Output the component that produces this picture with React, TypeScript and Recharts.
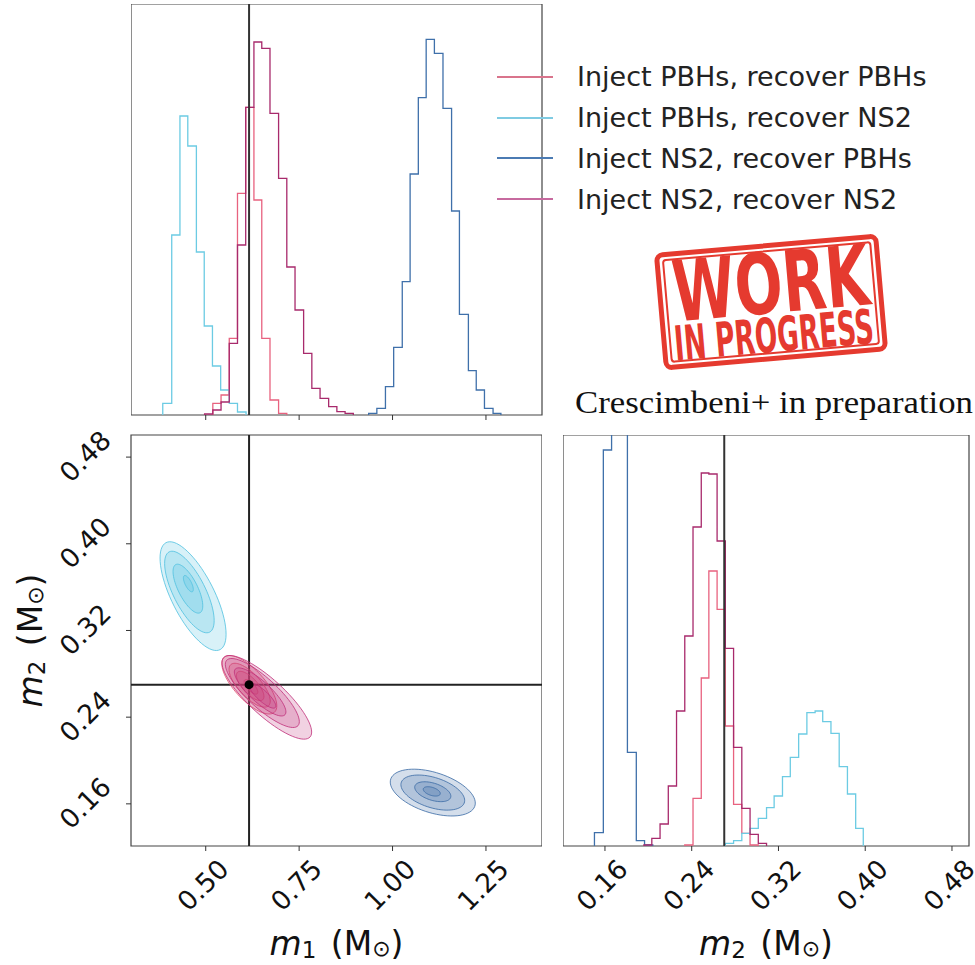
import React from 'react'
import {
  ComposedChart,
  ScatterChart,
  Line,
  Scatter,
  XAxis,
  YAxis,
  ReferenceLine,
  ReferenceArea,
  Legend
} from 'recharts'

// Series names and colours
const seriesNames = [
  'Inject PBHs, recover PBHs',
  'Inject PBHs, recover NS2',
  'Inject NS2, recover PBHs',
  'Inject NS2, recover NS2'
]
const lineColors = ['#e8627f', '#6ccbe3', '#3f70aa', '#a82a6c']
const legendColors = ['#d9748c', '#7fcbe2', '#4b7bb3', '#c76a9f']
const contourColors = ['#e0506e', '#4fc0e0', '#3a6aa5', '#c0307a']

// Injected values
const truthM1 = 0.616
const truthM2 = 0.27

// Axis ranges and ticks
const m1Domain = [0.3, 1.4]
const m2Domain = [0.1211, 0.5004]
const m2HistDomain = [0.1213, 0.4957]
const histHeight = [0, 411]
const m1Ticks = [0.5, 0.75, 1.0, 1.25]
const m2Ticks = [0.16, 0.24, 0.32, 0.4, 0.48]

// m1 marginal histograms (bin edges, heights)
const m1PbhPbhEdges = [0.519, 0.541, 0.563, 0.585, 0.607, 0.629, 0.65, 0.672, 0.695, 0.717]
const m1PbhPbhCounts = [11.7, 20, 76.7, 221.7, 307.7, 215, 76.7, 15, 1.7]
const m1PbhNs2Edges = [0.385, 0.409, 0.431, 0.452, 0.475, 0.496, 0.518, 0.54, 0.563, 0.585, 0.608]
const m1PbhNs2Counts = [11.7, 180, 299, 269, 163, 89, 49, 25, 11.7, 3]
const m1Ns2PbhEdges = [0.936, 0.958, 0.981, 1.003, 1.026, 1.047, 1.069, 1.09, 1.112, 1.135, 1.158, 1.179, 1.203, 1.224, 1.246, 1.269, 1.29]
const m1Ns2PbhCounts = [1.7, 6.7, 28.3, 67.7, 133.3, 241, 317.3, 375.7, 361.7, 306.7, 204, 100.7, 44.3, 25, 6.7, 1.7]
const m1Ns2Ns2Edges = [0.497, 0.519, 0.541, 0.563, 0.585, 0.607, 0.629, 0.65, 0.672, 0.695, 0.717, 0.739, 0.762, 0.784, 0.806, 0.829, 0.851, 0.873, 0.895]
const m1Ns2Ns2Counts = [1, 5, 13, 71.7, 170, 307.7, 373, 366.7, 301.7, 236.7, 148, 105, 61.7, 26.7, 16.7, 8.3, 3.3, 1.7]

// m2 marginal histograms
const m2PbhPbhEdges = [0.2336, 0.2412, 0.2488, 0.2558, 0.2634, 0.271, 0.2786, 0.2862, 0.2938, 0.3014]
const m2PbhPbhCounts = [1, 47.7, 168, 275, 236.7, 120, 41.7, 12.7, 1]
const m2PbhNs2Edges = [0.271, 0.2786, 0.2862, 0.2938, 0.3014, 0.309, 0.316, 0.3237, 0.3309, 0.3386, 0.3462, 0.3538, 0.3608, 0.3684, 0.376, 0.3836, 0.3912, 0.3982]
const m2PbhNs2Counts = [2.7, 5.3, 12.7, 17.7, 27.7, 38.3, 50, 69.3, 88.7, 112, 133.3, 135, 124.3, 112.7, 79.3, 52, 17.7]
const m2Ns2PbhEdges = [0.1503, 0.1585, 0.1661, 0.1734, 0.1807, 0.1889, 0.1965, 0.2041]
const m2Ns2PbhCounts = [13.3, 396, 560, 520, 93.7, 5.3, 1]
const m2Ns2Ns2Edges = [0.1959, 0.2032, 0.2108, 0.2184, 0.226, 0.2336, 0.2412, 0.2488, 0.2558, 0.2634, 0.271, 0.2786, 0.2862, 0.2938, 0.3014, 0.309]
const m2Ns2Ns2Counts = [1, 7.7, 22, 60, 135, 210, 319, 373, 372, 305, 197.7, 98.7, 37.7, 11.7, 2.7]

// 2D contour shapes: sigma(m1), sigma(m2), correlation
const contourSigma1 = [0.0368, 0.0442, 0.0569, 0.06]
const contourSigma2 = [0.0135, 0.0251, 0.0108, 0.0193]
const contourRho = [-0.72, -0.7, -0.45, -0.83]

// contour levels: radius and centre per level
const pbhPbhLevels = [
  { r: 2, m1: 0.6166, m2: 0.2699 },
  { r: 1.5, m1: 0.6175, m2: 0.2695 },
  { r: 1, m1: 0.619, m2: 0.2688 },
  { r: 0.5, m1: 0.621, m2: 0.268 }
]
const pbhNs2Levels = [
  { r: 2, m1: 0.4661, m2: 0.3517 },
  { r: 1.5, m1: 0.4563, m2: 0.3555 },
  { r: 0.9, m1: 0.4523, m2: 0.3586 },
  { r: 0.3, m1: 0.4535, m2: 0.3632 }
]
const ns2PbhLevels = [
  { r: 2, m1: 1.1077, m2: 0.1704 },
  { r: 1.5, m1: 1.1077, m2: 0.1704 },
  { r: 0.85, m1: 1.1077, m2: 0.1712 },
  { r: 0.4, m1: 1.105, m2: 0.1715 }
]
const ns2Ns2Levels = [
  { r: 2, m1: 0.6635, m2: 0.2583 },
  { r: 1.65, m1: 0.6515, m2: 0.2623 },
  { r: 1.15, m1: 0.6456, m2: 0.2633 },
  { r: 0.6, m1: 0.6516, m2: 0.2599 }
]

const m1Hists = [
  [m1PbhPbhEdges, m1PbhPbhCounts],
  [m1PbhNs2Edges, m1PbhNs2Counts],
  [m1Ns2PbhEdges, m1Ns2PbhCounts],
  [m1Ns2Ns2Edges, m1Ns2Ns2Counts]
]
const m2Hists = [
  [m2PbhPbhEdges, m2PbhPbhCounts],
  [m2PbhNs2Edges, m2PbhNs2Counts],
  [m2Ns2PbhEdges, m2Ns2PbhCounts],
  [m2Ns2Ns2Edges, m2Ns2Ns2Counts]
]
const allLevels = [pbhPbhLevels, pbhNs2Levels, ns2PbhLevels, ns2Ns2Levels]

// step outline of a histogram
const stepPoints = (edges: number[], counts: number[]) => {
  const pts = [{ x: edges[0], y: 0 }]
  counts.forEach((c, i) => {
    pts.push({ x: edges[i], y: c }, { x: edges[i + 1], y: c })
  })
  pts.push({ x: edges[edges.length - 1], y: 0 })
  return pts
}

// gaussian iso-density ellipse in data units
const ellipsePoints = (m1: number, m2: number, r: number, s1: number, s2: number, rho: number) => {
  const pts = []
  const q = Math.sqrt(1 - rho * rho)
  for (let i = 0; i < 72; i++) {
    const t = (i / 72) * Math.PI * 2
    pts.push({
      x: m1 + r * s1 * Math.cos(t),
      y: m2 + r * s2 * (rho * Math.cos(t) + q * Math.sin(t))
    })
  }
  return pts
}

const FONT = 'DejaVu Sans'
const FRAME = '#444'
const TOP_PAD = 12

const noDot = () => <g />

const contourPath = (color: string) => (props: any) => {
  const pts = props.points || []
  const d = pts.map((p: any, i: number) => `${i ? 'L' : 'M'}${p.x},${p.y}`).join('') + 'Z'
  return (
    <path d={d} fill={color} fillOpacity={0.22} stroke={color} strokeOpacity={0.8} strokeWidth={1} />
  )
}

const XTick = ({ x, y, payload }: any) => {
  const cx = x - 3
  const cy = y + 32
  return (
    <text x={cx} y={cy} textAnchor="middle" dominantBaseline="central" fontSize={26.5}
      fontFamily={FONT} fill="#111" transform={`rotate(-45, ${cx}, ${cy})`}>
      {Number(payload.value).toFixed(2)}
    </text>
  )
}

const YTick = ({ x, y, payload }: any) => {
  const cx = x - 39
  const cy = y - 1
  return (
    <text x={cx} y={cy} textAnchor="middle" dominantBaseline="central" fontSize={26.5}
      fontFamily={FONT} fill="#111" transform={`rotate(-45, ${cx}, ${cy})`}>
      {Number(payload.value).toFixed(2)}
    </text>
  )
}

const AxisTitle = ({ viewBox, sub, vertical }: any) => {
  const vb = viewBox || { x: 0, y: 0, width: 0, height: 0 }
  const cx = vertical ? vb.x + 30 : vb.x + vb.width / 2
  const cy = vertical ? vb.y + vb.height / 2 : vb.y + 97
  return (
    <text x={cx} y={cy} textAnchor="middle" dominantBaseline="central" fontSize={33}
      fontFamily={FONT} fill="#111" transform={vertical ? `rotate(-90, ${cx}, ${cy})` : undefined}>
      <tspan fontStyle="italic">m</tspan>
      <tspan fontSize={23} dy={7}>{sub}</tspan>
      <tspan dy={-7} dx={4}> (M</tspan>
      <tspan fontSize={22} dy={5}>⊙</tspan>
      <tspan dy={-5}>)</tspan>
    </text>
  )
}

const renderLegend = () => (
  <div style={{ fontFamily: FONT, fontSize: 27, color: '#222' }}>
    {seriesNames.map((n, i) => (
      <div key={n} style={{ display: 'flex', alignItems: 'center', height: 40.8 }}>
        <div style={{ width: 56, height: 2, background: legendColors[i], marginRight: 24 }} />
        <span style={{ whiteSpace: 'nowrap' }}>{n}</span>
      </div>
    ))}
  </div>
)

function Stamp() {
  const red = '#e53a2f'
  return (
    <svg width={280} height={180} style={{ position: 'absolute', left: 630, top: 215 }}>
      <g transform="translate(141, 87) rotate(-5)">
        <rect x={-110} y={-56.5} width={220} height={113} rx={6} fill="none" stroke={red} strokeWidth={5} />
        <rect x={-104} y={-51} width={208} height={102} rx={3} fill="none" stroke={red} strokeWidth={2} />
        <text x={-97} y={11} fontSize={84} fontWeight="bold" fill={red}
          fontFamily="'Liberation Sans Narrow', 'DejaVu Sans Condensed', sans-serif"
          textLength={197} lengthAdjust="spacingAndGlyphs">WORK</text>
        <text x={-100} y={50} fontSize={48} fontWeight="bold" fill={red}
          fontFamily="'Liberation Sans Narrow', 'DejaVu Sans Condensed', sans-serif"
          textLength={200} lengthAdjust="spacingAndGlyphs">IN PROGRESS</text>
      </g>
    </svg>
  )
}

export default function App() {
  return (
    <div style={{ position: 'absolute', left: 0, top: 0, width: 975, height: 965, background: '#fff', overflow: 'hidden' }}>
      {/* m1 marginal */}
      <div style={{ position: 'absolute', left: 131, top: 4 }}>
        <ComposedChart width={844} height={421} margin={{ top: 0, right: 433, bottom: 0, left: 0 }}>
          <XAxis dataKey="x" type="number" domain={m1Domain} allowDataOverflow ticks={m1Ticks}
            height={10} tickSize={5} tickFormatter={() => ''} axisLine={false} stroke="#333" />
          <YAxis type="number" domain={histHeight} hide allowDataOverflow />
          <ReferenceArea x1={m1Domain[0]} x2={m1Domain[1]} y1={0} y2={411} fill="none"
            stroke={FRAME} strokeWidth={1.2} ifOverflow="visible" />
          {m1Hists.map(([e, c], i) => (
            <Line key={i} data={stepPoints(e, c)} dataKey="y" type="linear" dot={false}
              stroke={lineColors[i]} strokeWidth={1.3} isAnimationActive={false} name={seriesNames[i]} />
          ))}
          <ReferenceLine x={truthM1} stroke="#333" strokeWidth={2} />
          <Legend layout="vertical" align="center" verticalAlign="middle" content={renderLegend}
            wrapperStyle={{ position: 'absolute', left: 366, top: 52.5, width: 478, height: 165 }} />
        </ComposedChart>
      </div>

      {/* m1 vs m2 */}
      <div style={{ position: 'absolute', left: 0, top: 435 - TOP_PAD }}>
        <ScatterChart width={542} height={529 + TOP_PAD} margin={{ top: TOP_PAD, right: 0, bottom: 0, left: 0 }}>
          <XAxis dataKey="x" type="number" domain={m1Domain} allowDataOverflow ticks={m1Ticks}
            height={118} tickSize={5} tick={<XTick />} axisLine={false} stroke="#333"
            label={<AxisTitle sub="1" />} />
          <YAxis dataKey="y" type="number" domain={m2Domain} allowDataOverflow ticks={m2Ticks}
            width={131} tickSize={5} tick={<YTick />} axisLine={false} stroke="#333"
            label={<AxisTitle sub="2" vertical />} />
          <ReferenceArea x1={m1Domain[0]} x2={m1Domain[1]} y1={m2Domain[0]} y2={m2Domain[1]}
            fill="none" stroke={FRAME} strokeWidth={1.2} ifOverflow="visible" />
          {allLevels.map((levels, s) =>
            levels.map((lv, j) => (
              <Scatter key={`${s}-${j}`}
                data={ellipsePoints(lv.m1, lv.m2, lv.r, contourSigma1[s], contourSigma2[s], contourRho[s])}
                line={contourPath(contourColors[s])} lineType="joint" shape={noDot}
                legendType="none" isAnimationActive={false} />
            ))
          )}
          <ReferenceLine x={truthM1} stroke="#222" strokeWidth={2} />
          <ReferenceLine y={truthM2} stroke="#222" strokeWidth={2} />
          <Scatter data={[{ x: truthM1, y: truthM2 }]} fill="#000" isAnimationActive={false} />
        </ScatterChart>
      </div>

      {/* m2 marginal */}
      <div style={{ position: 'absolute', left: 563, top: 435 }}>
        <ComposedChart width={412} height={529} margin={{ top: 0, right: 6, bottom: 0, left: 0 }}>
          <XAxis dataKey="x" type="number" domain={m2HistDomain} allowDataOverflow ticks={m2Ticks}
            height={118} tickSize={5} tick={<XTick />} axisLine={false} stroke="#333"
            label={<AxisTitle sub="2" />} />
          <YAxis type="number" domain={histHeight} hide allowDataOverflow />
          <ReferenceArea x1={m2HistDomain[0]} x2={m2HistDomain[1]} y1={0} y2={411} fill="none"
            stroke={FRAME} strokeWidth={1.2} ifOverflow="visible" />
          {m2Hists.map(([e, c], i) => (
            <Line key={i} data={stepPoints(e, c)} dataKey="y" type="linear" dot={false}
              stroke={lineColors[i]} strokeWidth={1.3} isAnimationActive={false} />
          ))}
          <ReferenceLine x={truthM2} stroke="#333" strokeWidth={2} />
        </ComposedChart>
      </div>

      <svg width={415} height={40} style={{ position: 'absolute', left: 560, top: 385 }}>
        <text x={15} y={28} fontSize={31} fontFamily="'Liberation Serif', serif" fill="#111"
          textLength={398} lengthAdjust="spacingAndGlyphs">Crescimbeni+ in preparation</text>
      </svg>

      <Stamp />
    </div>
  )
}
